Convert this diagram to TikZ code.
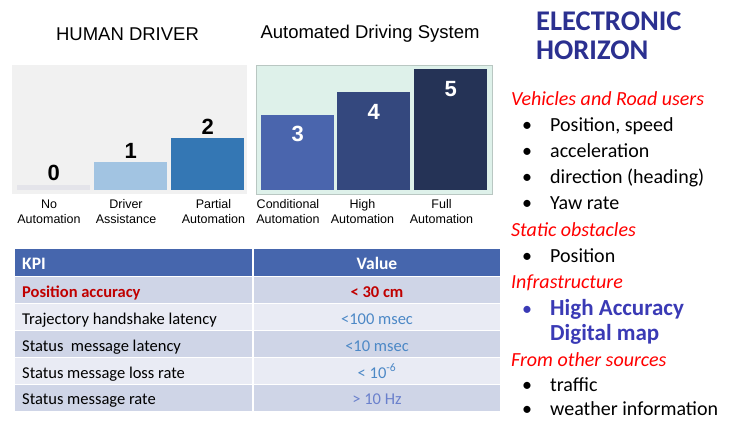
\documentclass[tikz,border=0pt]{standalone}
\usepackage{fontspec}
\setmainfont{Carlito}
\newfontfamily\arialfont{Liberation Sans}
\usetikzlibrary{positioning}

\definecolor{panelgray}{HTML}{F1F1F1}
\definecolor{panelgreen}{HTML}{DEF1EA}
\definecolor{lvlzero}{HTML}{E4E4EA}
\definecolor{lvlone}{HTML}{A2C4E2}
\definecolor{lvltwo}{HTML}{3477B4}
\definecolor{lvlthree}{HTML}{4A65AD}
\definecolor{lvlfour}{HTML}{34487E}
\definecolor{lvlfive}{HTML}{253356}
\definecolor{tabhead}{HTML}{4666AD}
\definecolor{rowdark}{HTML}{CFD5E7}
\definecolor{rowlight}{HTML}{E9EBF4}
\definecolor{kpired}{HTML}{C00000}
\definecolor{valblue}{HTML}{4C88C6}
\definecolor{valpurple}{HTML}{6A80CC}
\definecolor{horizonblue}{HTML}{2B3090}
\definecolor{mapblue}{HTML}{3A3AB5}

\newcommand{\itembul}{\makebox[28pt][l]{\textbullet}}

\begin{document}
\begin{tikzpicture}
[x=1pt, y=-1pt,
  title/.style = {font=\arialfont\fontsize{18.5}{18.5}\selectfont, anchor=base, inner sep=0},
  panel/.style = {rectangle, anchor=north west, inner sep=0, minimum height=129, minimum width=235},
  bar/.style = {rectangle, anchor=south west, inner sep=0, minimum width=73},
  lvl/.style = {font=\arialfont\bfseries\fontsize{22}{22}\selectfont, inner sep=0},
  cat/.style = {font=\arialfont\fontsize{12.5}{15}\selectfont, align=center, inner sep=0},
  kpi/.style = {font=\fontsize{16.5}{16.5}\selectfont, anchor=base west, inner sep=0},
  val/.style = {font=\fontsize{16.5}{16.5}\selectfont, anchor=base, inner sep=0},
  group/.style = {font=\itshape\fontsize{20}{20}\selectfont, text=red, anchor=base west, inner sep=0},
  entry/.style = {font=\fontsize{20}{20}\selectfont, anchor=base west, inner sep=0}]
\useasboundingbox (0,0) rectangle (729,421);

% levels of automation
\node[title] (human) at (127.5,40.7) {HUMAN DRIVER};
\node[title] (ads) at (370,38.3) {Automated Driving System};
\node[panel, fill=panelgray] (humanpanel) at (12,65) {};
\node[panel, fill=panelgreen, draw=panelgreen!80!black!90, minimum width=236] (adspanel) at (256,65) {};

\foreach \n/\x/\h/\col in {0/17/5/lvlzero, 1/94/28/lvlone, 2/171/52/lvltwo,
    3/261/75/lvlthree, 4/337/98/lvlfour, 5/414/121/lvlfive}
  \node[bar, fill=\col, minimum height=\h] (bar\n) at (\x,190) {};

\node[lvl, above=4pt of bar0] (num0) {0};
\node[lvl, above=3pt of bar1] (num1) {1};
\node[lvl, above=3pt of bar2] (num2) {2};
\node[lvl, text=white, anchor=north] (num3) at ([yshift=-11pt]bar3.north) {3};
\node[lvl, text=white, anchor=north] (num4) at ([yshift=-13pt]bar4.north) {4};
\node[lvl, text=white, anchor=north] (num5) at ([yshift=-13pt]bar5.north) {5};

\node[cat] (cat0) at (49,212) {No\\Automation};
\node[cat] (cat1) at (126,212) {Driver\\Assistance};
\node[cat] (cat2) at (213.5,212) {Partial\\Automation};
\node[cat] (cat3) at (288,212) {Conditional\\Automation};
\node[cat] (cat4) at (362.5,212) {High\\Automation};
\node[cat] (cat5) at (441.5,212) {Full\\Automation};

% KPI table
\fill[tabhead] (15,249) rectangle (252,276);
\fill[tabhead] (254,249) rectangle (500,276);
\foreach \r/\c in {0/rowdark, 1/rowlight, 2/rowdark, 3/rowlight, 4/rowdark} {
  \fill[\c] (15,{277+27*\r}) rectangle (252,{303+27*\r});
  \fill[\c] (254,{277+27*\r}) rectangle (500,{303+27*\r});
}
\node[kpi, text=white, font=\bfseries\fontsize{17.5}{17.5}\selectfont] (kpihead) at (22,269.5) {KPI};
\node[val, text=white, font=\bfseries\fontsize{17.5}{17.5}\selectfont] (valhead) at (377,269.5) {Value};
\node[kpi, text=kpired, font=\bfseries\fontsize{16.5}{16.5}\selectfont] (kpi1) at (22,297) {Position accuracy};
\node[val, text=kpired, font=\bfseries\fontsize{16.5}{16.5}\selectfont] (val1) at (377,297) {< 30 cm};
\node[kpi] (kpi2) at (22,324) {Trajectory handshake latency};
\node[val, text=valblue] (val2) at (377,324) {<100 msec};
\node[kpi] (kpi3) at (22,351) {Status\ \ message latency};
\node[val, text=valblue] (val3) at (377,351) {<10 msec};
\node[kpi] (kpi4) at (22,378) {Status message loss rate};
\node[val, text=valblue] (val4) at (377,378) {< 10\textsuperscript{-6}};
\node[kpi] (kpi5) at (22,404.5) {Status message rate};
\node[val, text=valpurple] (val5) at (377,404.5) {> 10 Hz};

% electronic horizon
\node[entry, text=horizonblue, font=\bfseries\fontsize{28.5}{28.5}\selectfont] (eh1) at (536,30) {ELECTRONIC};
\node[entry, text=horizonblue, font=\bfseries\fontsize{28.5}{28.5}\selectfont] (eh2) at (536,59.3) {HORIZON};
\node[group] (vru) at (511,105) {Vehicles and Road users};
\node[entry] (vru1) at (522,131.7) {\itembul Position, speed};
\node[entry] (vru2) at (522,157.7) {\itembul acceleration};
\node[entry] (vru3) at (522,183.7) {\itembul direction (heading)};
\node[entry] (vru4) at (522,209.7) {\itembul Yaw rate};
\node[group] (obst) at (511,236) {Static obstacles};
\node[entry] (obst1) at (522,262) {\itembul Position};
\node[group] (infra) at (511,288.7) {Infrastructure};
\node[entry, text=mapblue, font=\bfseries\fontsize{23}{23}\selectfont] (infra1) at (522,315)
  {\makebox[28pt][l]{\fontsize{20}{20}\mdseries\textbullet}High Accuracy};
\node[entry, text=mapblue, font=\bfseries\fontsize{23}{23}\selectfont] (infra2) at (550,340.7) {Digital map};
\node[group] (other) at (511,366.2) {From other sources};
\node[entry] (other1) at (522,391.5) {\itembul traffic};
\node[entry] (other2) at (522,415.8) {\itembul weather information};
\end{tikzpicture}
\end{document}
